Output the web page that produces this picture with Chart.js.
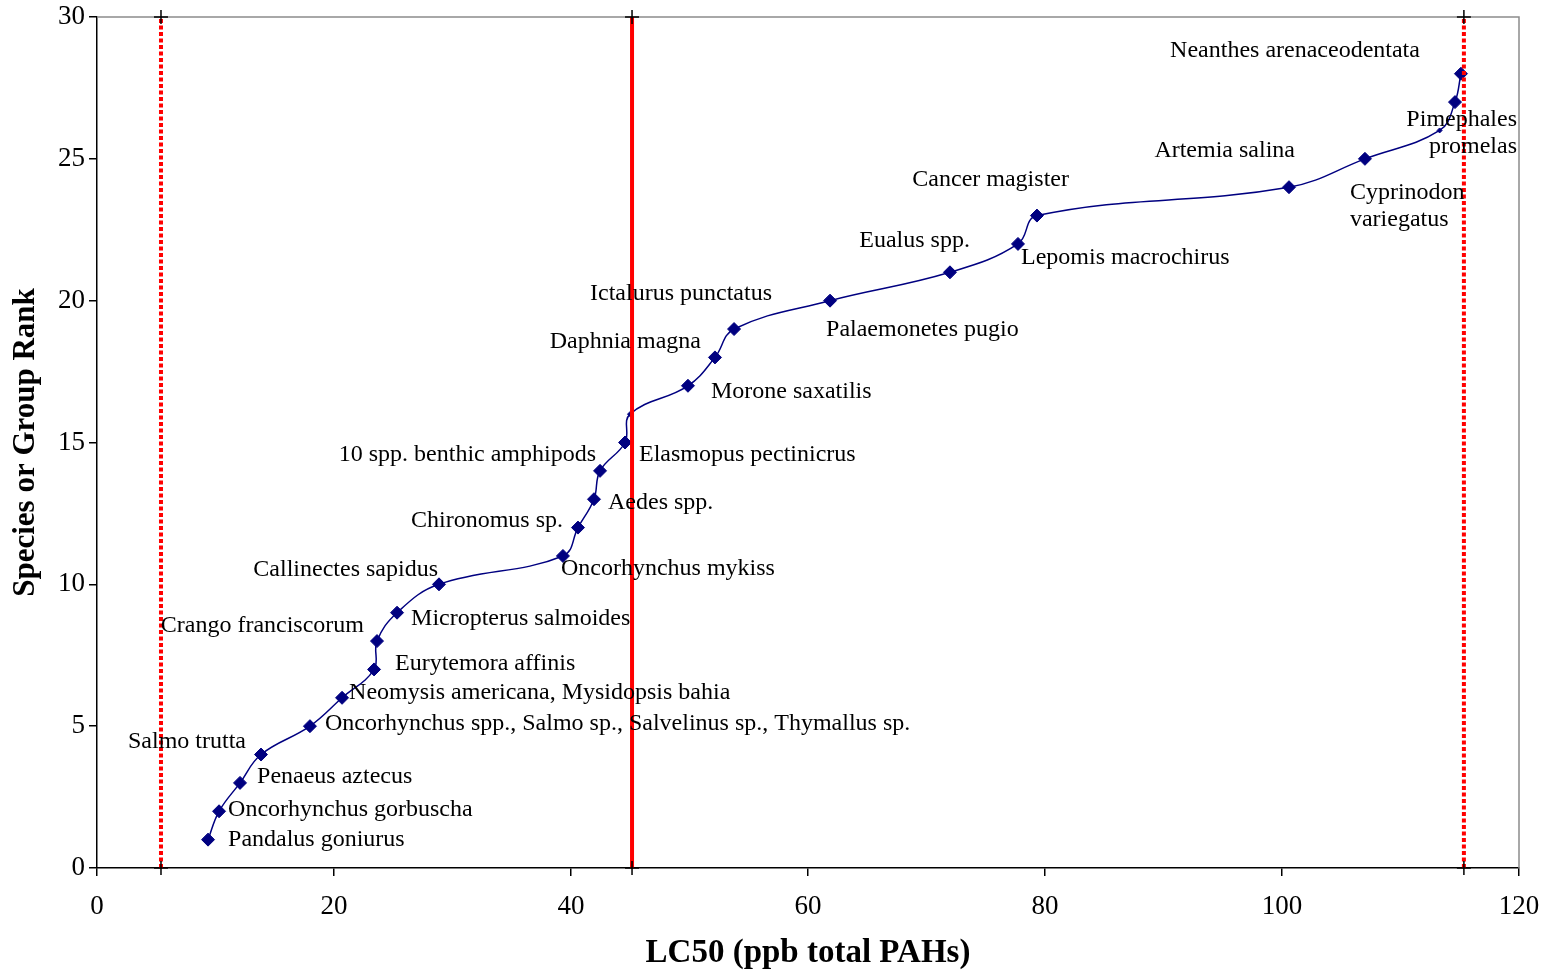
<!DOCTYPE html>
<html>
<head>
<meta charset="utf-8">
<script src="https://cdn.jsdelivr.net/npm/chart.js@4.4.1/dist/chart.umd.min.js"></script>
<style>
  html, body { margin: 0; padding: 0; background: #fff; }
  #wrap { width: 1542px; height: 970px; }
</style>
</head>
<body>
<div id="wrap"><canvas id="chart" width="1542" height="970"></canvas></div>
<script>
// LC50 value (ppb total PAHs) for each ranked species/group
const lc50 = [9.37, 10.3, 12.07, 13.84, 17.97, 20.68, 23.38, 23.63, 25.32, 28.86,
  39.32, 40.59, 41.94, 42.45, 44.56, 44.98, 49.87, 52.15, 53.76, 61.86,
  71.98, 77.72, 79.32, 100.59, 107.0, 113.3, 114.6, 115.1];
const ranks = [1, 2, 3, 4, 5, 6, 7, 8, 9, 10, 11, 12, 13, 14, 15, 16, 17, 18, 19, 20,
  21, 22, 23, 24, 25, 26, 27, 28];
const species = [
  'Pandalus goniurus', 'Oncorhynchus gorbuscha', 'Penaeus aztecus', 'Salmo trutta',
  'Oncorhynchus spp., Salmo sp., Salvelinus sp., Thymallus sp.',
  'Neomysis americana, Mysidopsis bahia', 'Eurytemora affinis', 'Crango franciscorum',
  'Micropterus salmoides', 'Callinectes sapidus', 'Oncorhynchus mykiss', 'Chironomus sp.',
  'Aedes spp.', '10 spp. benthic amphipods', 'Elasmopus pectinicrus', '',
  'Morone saxatilis', 'Daphnia magna', 'Ictalurus punctatus', 'Palaemonetes pugio',
  'Eualus spp.', 'Lepomis macrochirus', 'Cancer magister', 'Artemia salina',
  'Cyprinodon\nvariegatus', '', 'Pimephales\npromelas', 'Neanthes arenaceodentata'
];
// reference lines (x positions)
const refLowX = 5.4;
const refMidX = 45.15;
const refHighX = 115.35;
const xTicks = [0, 20, 40, 60, 80, 100, 120];
const yTicks = [0, 5, 10, 15, 20, 25, 30];

// label placement: [dx, dy, align] relative to the marker
const labelPos = [
  [20, 0, 'left'], [9, -2, 'left'], [17, -6, 'left'], [-15, -13, 'right'],
  [15, -2, 'left'], [7, -5, 'left'], [21, -6, 'left'], [-13, -15, 'right'],
  [14, 6, 'left'], [-1, -15, 'right'], [-2, 13, 'left'], [-15, -7, 'right'],
  [14, 3, 'left'], [-4, -16, 'right'], [14, 12, 'left'], null,
  [23, 6, 'left'], [-14, -16, 'right'], [-144, -35, 'left'], [-4, 29, 'left'],
  [20, -32, 'right'], [3, 14, 'left'], [32, -36, 'right'], [6, -36, 'right'],
  [-15, 34, 'left'], null, [62, 18, 'right'], [-41, -23, 'right']
];

const serif = "'Liberation Serif', 'Times New Roman', serif";

const speciesPoints = lc50.map((x, i) => ({ x: x, y: ranks[i] }));
const pointSizes = species.map(s => s === '' ? 2.5 : 6.5);

function vline(x) {
  return [{ x: x, y: 0 }, { x: x, y: 30 }];
}

const labelPlugin = {
  id: 'labels',
  beforeDatasetsDraw(chart) {
    const { ctx, chartArea: a } = chart;
    ctx.save();
    ctx.strokeStyle = '#8c8c8c';
    ctx.lineWidth = 1.5;
    ctx.beginPath();
    ctx.moveTo(a.left, a.top);
    ctx.lineTo(a.right, a.top);
    ctx.lineTo(a.right, a.bottom);
    ctx.stroke();
    ctx.restore();
  },
  afterDatasetsDraw(chart) {
    const { ctx } = chart;
    const meta = chart.getDatasetMeta(3);
    ctx.save();
    ctx.font = '24px ' + serif;
    ctx.fillStyle = '#000';
    ctx.textBaseline = 'middle';
    species.forEach((name, i) => {
      const p = labelPos[i];
      if (!name || !p) return;
      const el = meta.data[i];
      ctx.textAlign = p[2];
      name.split('\n').forEach((line, k) => {
        ctx.fillText(line, el.x + p[0], el.y + p[1] + k * 27);
      });
    });
    ctx.restore();
  }
};

function refSet(x, dash, width) {
  return {
    data: vline(x),
    showLine: true,
    borderColor: '#ff0000',
    borderWidth: width,
    borderDash: dash,
    pointStyle: 'cross',
    pointRadius: 7,
    pointBorderColor: '#000',
    pointBorderWidth: 1.5,
    pointBackgroundColor: '#000',
    clip: false
  };
}

new Chart(document.getElementById('chart'), {
  type: 'scatter',
  data: {
    datasets: [
      refSet(refLowX, [4, 2.5], 4),
      refSet(refMidX, [], 4),
      refSet(refHighX, [4, 2.5], 4),
      {
        data: speciesPoints,
        showLine: true,
        tension: 0.4,
        borderColor: '#000080',
        borderWidth: 1.5,
        pointStyle: 'rectRot',
        pointRadius: pointSizes,
        pointBackgroundColor: '#000080',
        pointBorderColor: '#000080',
        pointBorderWidth: 1,
        clip: false
      }
    ]
  },
  options: {
    responsive: false,
    animation: false,
    layout: { padding: { left: 0, right: 23, top: 17, bottom: 0 } },
    plugins: { legend: { display: false }, tooltip: { enabled: false } },
    scales: {
      x: {
        type: 'linear',
        min: 0, max: 120,
        afterBuildTicks: s => { s.ticks = xTicks.map(v => ({ value: v })); },
        afterFit: s => { s.height = 102; s.paddingLeft = 0; s.paddingRight = 0; },
        border: { color: '#000', width: 1.5 },
        grid: { drawOnChartArea: false, drawTicks: true, tickLength: 8, color: '#000', lineWidth: 1.5 },
        ticks: { color: '#000', font: { family: serif, size: 27 }, padding: 15, maxRotation: 0 },
        title: {
          display: true, text: 'LC50 (ppb total PAHs)', color: '#000',
          font: { family: serif, size: 33, weight: 'bold', lineHeight: 1 }, padding: { top: 0, bottom: 0 }
        }
      },
      y: {
        type: 'linear',
        min: 0, max: 30,
        afterBuildTicks: s => { s.ticks = yTicks.map(v => ({ value: v })); },
        afterFit: s => { s.width = 97; s.paddingTop = 0; s.paddingBottom = 0; },
        border: { color: '#000', width: 1.5 },
        grid: { drawOnChartArea: false, drawTicks: true, tickLength: 8, color: '#000', lineWidth: 1.5 },
        ticks: { color: '#000', font: { family: serif, size: 27 }, padding: 4 },
        title: {
          display: true, text: 'Species or Group Rank', color: '#000',
          font: { family: serif, size: 31, weight: 'bold', lineHeight: 1 }, padding: { top: 10, bottom: 0 }
        }
      }
    }
  },
  plugins: [labelPlugin]
});
</script>
</body>
</html>
